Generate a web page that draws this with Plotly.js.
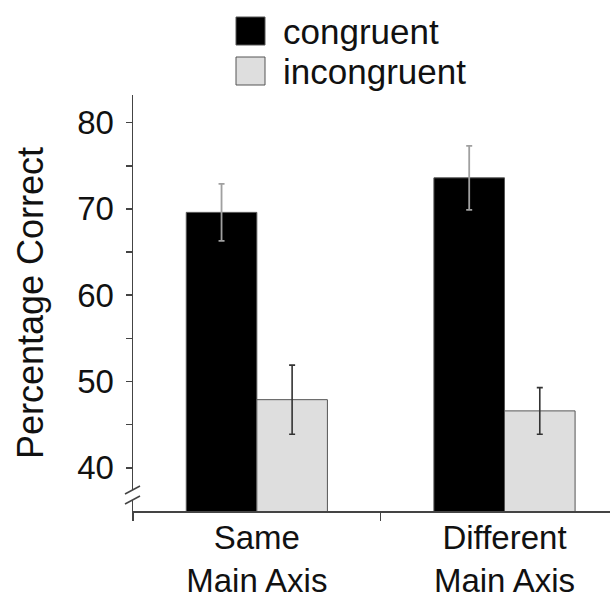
<!DOCTYPE html>
<html>
<head>
<meta charset="utf-8">
<script src="https://cdn.plot.ly/plotly-3.0.1.min.js"></script>
<style>
  html, body { margin: 0; padding: 0; background: #fff; }
  #chart { width: 610px; height: 604px; }
</style>
</head>
<body>
<div id="chart"></div>
<script>
// ---- data ----
const categories = ["Same<br>Main Axis", "Different<br>Main Axis"];
const seriesNames = ["congruent", "incongruent"];
const seriesColors = ["#000000", "#dedede"];
const congruent = [69.6, 73.6];
const congruentErr = [3.3, 3.7];
const incongruent = [47.9, 46.6];
const incongruentErr = [4.0, 2.7];
const yTickVals = [40, 50, 60, 70, 80];
const yMinorVals = [45, 55, 65, 75];

// ---- layout helpers (pixels -> axis/paper units) ----
const W = 610, H = 604;
const mL = 133, mR = 0, mT = 95, mB = 93;
const yMin = 35, yMax = 83.2;
const plotH = H - mT - mB, plotW = W - mL - mR;
const pyToVal = py => yMin + (H - mB - py) / plotH * (yMax - yMin);
const pyToPaper = py => (H - mB - py) / plotH;
const pxToPaper = px => (px - mL) / plotW;

const font = "Arial, 'Liberation Sans', sans-serif";
const axisCol = "#444444";

const traces = [
  {
    type: "bar", name: seriesNames[0], x: categories, y: congruent,
    marker: { color: seriesColors[0], line: { color: "#555555", width: 1 } },
    error_y: { type: "data", array: congruentErr, visible: true, color: "#a0a0a0", thickness: 1.8, width: 3 },
    hoverinfo: "none"
  },
  {
    type: "bar", name: seriesNames[1], x: categories, y: incongruent,
    marker: { color: seriesColors[1], line: { color: "#555555", width: 1 } },
    error_y: { type: "data", array: incongruentErr, visible: true, color: "#333333", thickness: 1.6, width: 3 },
    hoverinfo: "none"
  }
];

// manual legend (large swatches)
const legendShapes = [], legendAnn = [];
seriesNames.forEach((nm, i) => {
  const top = 17 + i * 40, bot = top + 28;
  legendShapes.push({
    type: "rect", xref: "paper", yref: "paper", layer: "above",
    x0: pxToPaper(236), x1: pxToPaper(265), y0: pyToPaper(bot), y1: pyToPaper(top),
    fillcolor: seriesColors[i], line: { color: "#555555", width: 1 }
  });
  legendAnn.push({
    xref: "paper", yref: "paper", x: pxToPaper(281), y: pyToPaper((top + bot) / 2),
    xanchor: "left", yanchor: "middle", showarrow: false, text: nm,
    font: { family: font, size: 35, color: "#111111" }
  });
});

const layout = {
  width: W, height: H,
  margin: { l: mL, r: mR, t: mT, b: mB, pad: 0, autoexpand: false },
  paper_bgcolor: "#ffffff", plot_bgcolor: "#ffffff",
  font: { family: font, color: "#111111", size: 33 },
  barmode: "group", bargap: 0.43, bargroupgap: 0,
  showlegend: false,
  xaxis: {
    type: "category", range: [-0.5, 1.426],
    showline: true, linecolor: axisCol, linewidth: 1.5,
    ticks: "outside", tickson: "boundaries", ticklen: 8, tickcolor: axisCol, tickwidth: 1.5,
    tickangle: 0, ticklabelstandoff: -3,
    tickfont: { family: font, size: 33, color: "#111111" },
    showgrid: false, zeroline: false, fixedrange: true, automargin: false
  },
  yaxis: {
    range: [yMin, yMax],
    showline: true, linecolor: axisCol, linewidth: 1.5,
    tickmode: "array", tickvals: yTickVals, ticktext: yTickVals.map(String),
    ticks: "outside", ticklen: 6, tickcolor: axisCol, tickwidth: 1.5,
    ticklabelstandoff: 5,
    minor: { tickmode: "array", tickvals: yMinorVals, ticks: "outside", ticklen: 6, tickcolor: axisCol, tickwidth: 1.5, showgrid: false },
    tickfont: { family: font, size: 33, color: "#111111" },
    title: { text: "Percentage Correct", font: { family: font, size: 36, color: "#111111" }, standoff: 22 },
    showgrid: false, zeroline: false, fixedrange: true, automargin: false
  },
  shapes: [
    // axis break: white gap + two slanted strokes
    { type: "rect", xref: "paper", yref: "y", layer: "above",
      x0: pxToPaper(129), x1: pxToPaper(137), y0: pyToVal(500), y1: pyToVal(490),
      fillcolor: "#ffffff", line: { width: 0 } },
    { type: "line", xref: "paper", yref: "y", layer: "above",
      x0: pxToPaper(125), y0: pyToVal(494), x1: pxToPaper(140), y1: pyToVal(486),
      line: { color: axisCol, width: 1.5 } },
    { type: "line", xref: "paper", yref: "y", layer: "above",
      x0: pxToPaper(125), y0: pyToVal(504), x1: pxToPaper(140), y1: pyToVal(496),
      line: { color: axisCol, width: 1.5 } }
  ].concat(legendShapes),
  annotations: legendAnn
};

Plotly.newPlot("chart", traces, layout, { staticPlot: true, displayModeBar: false });
</script>
</body>
</html>
